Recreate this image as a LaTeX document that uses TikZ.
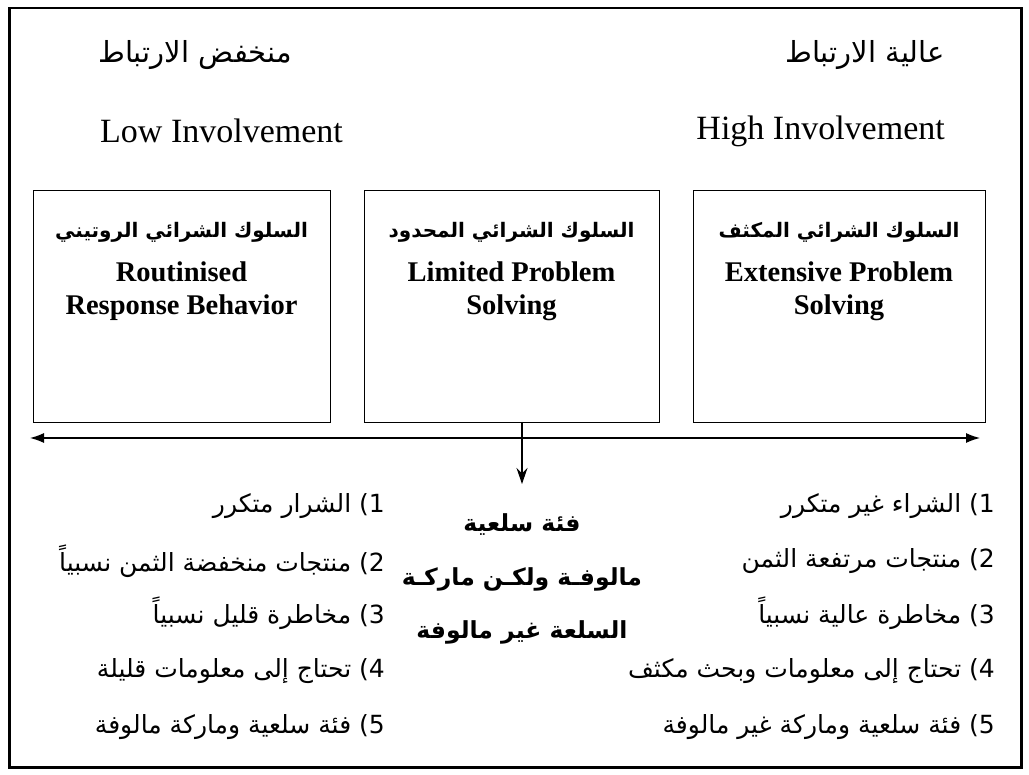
\documentclass[tikz,border=0pt]{standalone}
\usepackage{fontspec}
\setmainfont{Liberation Serif}
\newfontfamily\arabicfont[Script=Arabic]{DejaVu Sans}
\TeXXeTstate=1
\usetikzlibrary{arrows.meta}
\newcommand{\AR}[1]{{\arabicfont\beginR #1\endR}}
\begin{document}
\begin{tikzpicture}[x=1pt,y=-1pt,
  frame/.style={draw, line width=2.5pt},
  stagebox/.style={draw, line width=1.4pt, anchor=north west, inner sep=0pt, minimum height=232pt},
  enhead/.style={inner sep=0pt, font=\fontsize{34}{40}\selectfont},
  arhead/.style={inner sep=0pt, font=\fontsize{29}{34}\selectfont},
  artitle/.style={inner sep=0pt, font=\bfseries\fontsize{20}{24}\selectfont},
  entitle/.style={inner sep=0pt, align=center, font=\bfseries\fontsize{28.5}{33}\selectfont},
  item/.style={inner sep=0pt, anchor=east, font=\fontsize{25}{30}\selectfont},
  centre/.style={inner sep=0pt, font=\bfseries\fontsize{23.5}{28}\selectfont},
  axis/.style={line width=1.2pt, {Latex[length=14pt,width=10pt]}-{Latex[length=14pt,width=10pt]}},
  down/.style={line width=1.2pt, -{Stealth[length=16pt,width=11pt]}}
]
\useasboundingbox (0,0) rectangle (1029,775);
\node[frame, anchor=north west, minimum width=1012pt, minimum height=759pt, inner sep=0pt] (frame) at (8,7) {};

% headings
\node[arhead] (lowar) at (195,55) {\AR{منخفض الارتباط}};
\node[enhead, anchor=west] (lowen) at (100,131) {Low Involvement};
\node[arhead, anchor=east] (highar) at (945,55) {\AR{عالية الارتباط}};
\node[enhead, anchor=east] (highen) at (945,131) {High Involvement};

% boxes
\node[stagebox, minimum width=297pt] (boxL) at (33,190) {};
\node[stagebox, minimum width=295pt] (boxM) at (364,190) {};
\node[stagebox, minimum width=292pt] (boxR) at (693,190) {};

\node[artitle] (tL) at (181.5,232) {\AR{السلوك الشرائي الروتيني}};
\node[entitle] (eL) at (181.5,291) {Routinised\\Response Behavior};
\node[artitle] (tM) at (511.5,232) {\AR{السلوك الشرائي المحدود}};
\node[entitle] (eM) at (511.5,291) {Limited Problem\\Solving};
\node[artitle] (tR) at (839,232) {\AR{السلوك الشرائي المكثف}};
\node[entitle] (eR) at (839,291) {Extensive Problem\\Solving};

% axis
\coordinate (axL) at (30,438);
\coordinate (axR) at (980,438);
\draw[axis] (axL) -- (axR);
\coordinate (mbot) at (522,422);
\coordinate (mtip) at (522,484);
\draw[down] (mbot) -- (mtip);

% centre text
\node[centre] (c1) at (522,525) {\AR{فئة سلعية}};
\node[centre] (c2) at (522,579) {\AR{مالوفـة ولكـن ماركـة}};
\node[centre] (c3) at (522,632) {\AR{السلعة غير مالوفة}};

% left list
\node[item] (l1) at (385,506) {\AR{1) الشرار متكرر}};
\node[item] (l2) at (385,561) {\AR{2) منتجات منخفضة الثمن نسبياً}};
\node[item] (l3) at (385,613) {\AR{3) مخاطرة قليل نسبياً}};
\node[item] (l4) at (385,671) {\AR{4) تحتاج إلى معلومات قليلة}};
\node[item] (l5) at (385,727) {\AR{5) فئة سلعية وماركة مالوفة}};

% right list
\node[item] (r1) at (995,506) {\AR{1) الشراء غير متكرر}};
\node[item] (r2) at (995,561) {\AR{2) منتجات مرتفعة الثمن}};
\node[item] (r3) at (995,613) {\AR{3) مخاطرة عالية نسبياً}};
\node[item] (r4) at (995,671) {\AR{4) تحتاج إلى معلومات وبحث مكثف}};
\node[item] (r5) at (995,727) {\AR{5) فئة سلعية وماركة غير مالوفة}};
\end{tikzpicture}
\end{document}
